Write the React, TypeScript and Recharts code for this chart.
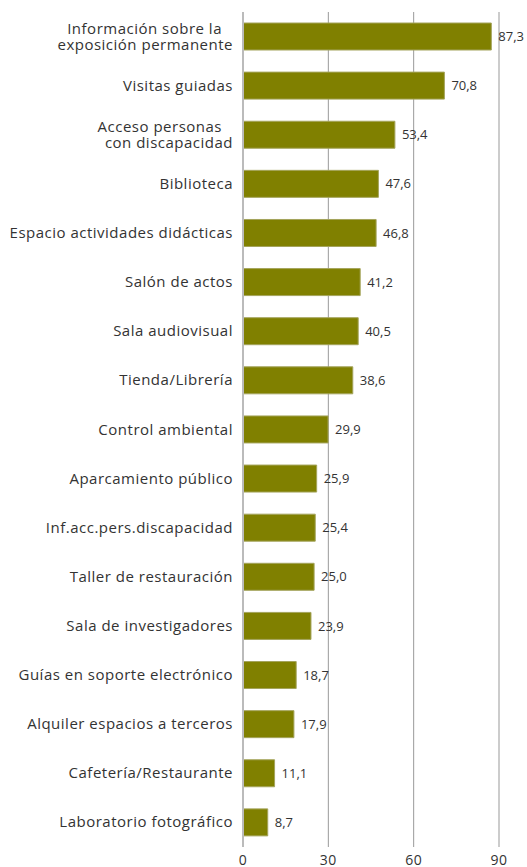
import { Bar, BarChart, CartesianGrid, LabelList, XAxis, YAxis } from 'recharts'

const categories = [
	'Información sobre la\nexposición permanente',
	'Visitas guiadas',
	'Acceso personas\ncon discapacidad',
	'Biblioteca',
	'Espacio actividades didácticas',
	'Salón de actos',
	'Sala audiovisual',
	'Tienda/Librería',
	'Control ambiental',
	'Aparcamiento público',
	'Inf.acc.pers.discapacidad',
	'Taller de restauración',
	'Sala de investigadores',
	'Guías en soporte electrónico',
	'Alquiler espacios a terceros',
	'Cafetería/Restaurante',
	'Laboratorio fotográfico',
]

const values = [87.3, 70.8, 53.4, 47.6, 46.8, 41.2, 40.5, 38.6, 29.9, 25.9, 25.4, 25.0, 23.9, 18.7, 17.9, 11.1, 8.7]

const xTicks = [0, 30, 60, 90]

const data = categories.map((name, i) => ({ name, value: values[i] }))

const font = '"Open Sans", Lato, sans-serif'

const CategoryTick = ({ x, y, payload }: any) => {
	const lines = String(payload.value).split('\n')
	const first = lines.length > 1 ? -3 : 5
	return (
		<text
			fill="#333"
			fontFamily={font}
			fontSize={15}
			letterSpacing={0.5}
			textAnchor="end"
			x={x}
			y={y}
		>
			{lines.map((line, i) => (
				<tspan
					key={i}
					x={x - (i === 0 && lines.length > 1 ? 11 : 0)}
					y={y + first + i * 16}
				>
					{line}
				</tspan>
			))}
		</text>
	)
}

export default function App() {
	return (
		<div style={{ position: 'absolute', left: 0, top: 0, background: '#fff' }}>
			<BarChart
				barSize={27}
				data={data}
				height={867}
				layout="vertical"
				margin={{ top: 12, right: 28, bottom: 0, left: 0 }}
				width={527}
			>
				<CartesianGrid
					horizontal={false}
					stroke="#999"
				/>
				<XAxis
					axisLine={false}
					domain={[0, 90]}
					height={20}
					tick={{ fill: '#333', fontFamily: font, fontSize: 14, letterSpacing: 0.5 }}
					tickLine={false}
					ticks={xTicks}
					type="number"
				/>
				<YAxis
					axisLine={{ stroke: '#bbb', strokeWidth: 2 }}
					dataKey="name"
					interval={0}
					tick={<CategoryTick />}
					tickLine={false}
					tickMargin={4}
					type="category"
					width={243}
				/>
				<Bar
					dataKey="value"
					fill="#808000"
					isAnimationActive={false}
					stroke="#a4a45c"
					strokeWidth={1}
				>
					<LabelList
						dataKey="value"
						fill="#333"
						fontFamily={font}
						fontSize={13}
						formatter={(v: any) => Number(v).toFixed(1).replace('.', ',')}
						offset={7}
						position="right"
					/>
				</Bar>
			</BarChart>
		</div>
	)
}
